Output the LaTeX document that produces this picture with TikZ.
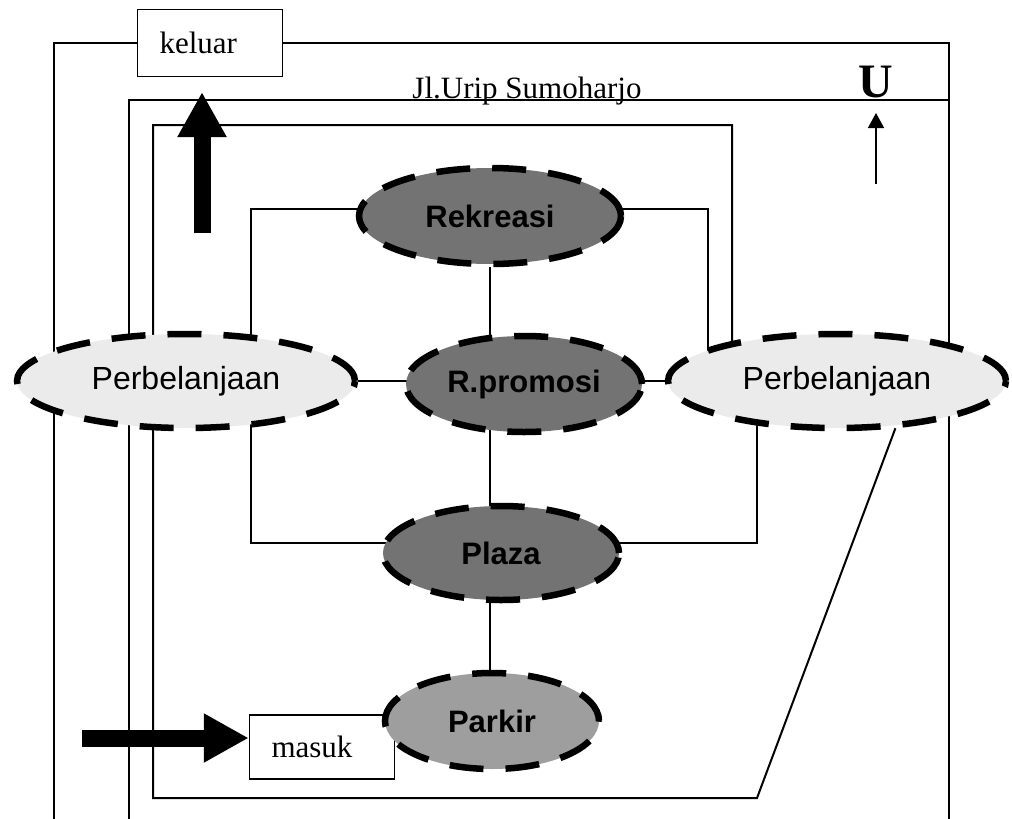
\documentclass[tikz,border=0pt]{standalone}
\usepackage{fontspec}
\setmainfont{Liberation Serif}
\newfontfamily\arialfont{Liberation Sans}
\usetikzlibrary{shapes.geometric,arrows.meta,backgrounds}

\begin{document}
\begin{tikzpicture}[x=1pt,y=-1pt,
  road/.style={line width=2pt},
  zone/.style={ellipse,draw,line width=6.5pt,dash pattern=on 34pt off 22pt,inner sep=0pt,
    font=\arialfont\fontsize{32}{32}\selectfont},
  shop/.style={zone,fill=black!8,minimum width=338pt,minimum height=94pt},
  hall/.style={zone,fill=black!55,minimum height=96pt,
    font=\arialfont\bfseries\fontsize{31}{31}\selectfont},
  gate/.style={draw,line width=1.5pt,fill=white,align=left,text width=101pt,
    inner xsep=22pt,font=\fontsize{31}{31}\selectfont},
  bigarrow/.style={line width=17pt,-{Triangle[width=46pt,length=45pt]}},
]
\useasboundingbox (0,0) rectangle (1012,819);

% zones
\node[shop] (Bel1) at (186,381) {Perbelanjaan};
\node[shop] (Bel2) at (837,381) {Perbelanjaan};
\node[hall,minimum width=262pt] (Rek) at (490,216) {Rekreasi};
\node[hall,minimum width=236pt] (Prom) at (524,384) {R.promosi};
\node[hall,minimum width=236pt,minimum height=94pt] (Plaza) at (501,553) {Plaza};
\node[gate,minimum height=64pt] (Masuk) at (322,747) {masuk};
\node[hall,fill=black!38,minimum width=214pt] (Parkir) at (492,721) {Parkir};
\node[gate,minimum height=67pt] (Keluar) at (210,43) {keluar};

% roads
\begin{scope}[on background layer]
\draw[road] (Keluar.west) -| (54,819);
\draw[road] (Keluar.east) -| (949,819);
\draw[road] (129,819) |- (949,100);
\draw[road] (Bel2.center -| 732,0) |- (153,125) -- (153,798) -- (757,798) -- (Bel2.-39);
\draw[road] (Bel2.center -| 708,0) |- (251,209) |- (757,543) -- (Bel2.center -| 757,0);
\draw[road] (Bel1) -- (Bel2);
\draw[road] (Rek) -- (Rek |- Parkir);
\end{scope}

\node[anchor=base,font=\fontsize{31}{31}\selectfont] (Jalan) at (527,98) {Jl.Urip Sumoharjo};
\node[font=\bfseries\fontsize{48}{48}\selectfont] (Utara) at (876,82) {U};

% arrows
\draw[bigarrow] (202,233) -- (202,92);
\draw[bigarrow] (82,738) -- ([yshift=9pt]Masuk.west);
\draw[line width=1.5pt,-{Triangle[width=16pt,length=15pt]}] (876,184) -- (876,113);
\end{tikzpicture}
\end{document}
